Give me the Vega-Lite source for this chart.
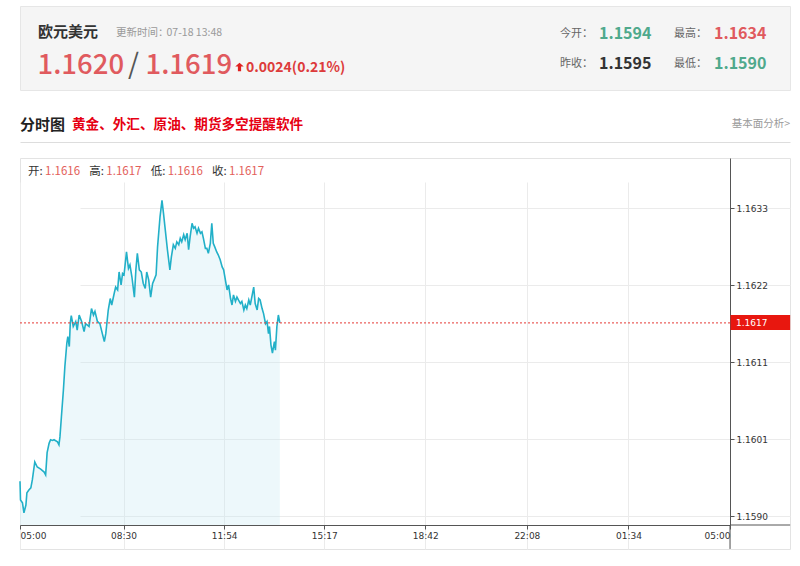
{
"$schema":"https://vega.github.io/schema/vega-lite/v6.json",
"background":"#ffffff",
"padding":{"left":16,"top":5,"right":10,"bottom":10},
"spacing":15,
"config":{"view":{"stroke":null},"text":{"font":"Noto Sans CJK SC"},"axis":{"labelFont":"DejaVu Sans"}},
"datasets":{
"quote":[{"name":"欧元美元","updated":"07-18 13:48","bid":1.1620,"ask":1.1619,"change":"0.0024(0.21%)","open":1.1594,"high":1.1634,"prevClose":1.1595,"low":1.1590}],
"ohlc":[{"k":"开:","v":1.1616},{"k":"高:","v":1.1617},{"k":"低:","v":1.1616},{"k":"收:","v":1.1617}],
"last":[{"price":1.1617}],
"series":[
{"t":"2025-07-18T05:00","p":1.15949},{"t":"2025-07-18T05:01","p":1.15923},{"t":"2025-07-18T05:05","p":1.15919},{"t":"2025-07-18T05:08","p":1.15905},{"t":"2025-07-18T05:12","p":1.15916},{"t":"2025-07-18T05:14","p":1.15933},{"t":"2025-07-18T05:18","p":1.15937},{"t":"2025-07-18T05:22","p":1.15940},{"t":"2025-07-18T05:25","p":1.15951},{"t":"2025-07-18T05:30","p":1.15976},{"t":"2025-07-18T05:35","p":1.15969},{"t":"2025-07-18T05:42","p":1.15966},{"t":"2025-07-18T05:49","p":1.15962},{"t":"2025-07-18T05:52","p":1.15958},{"t":"2025-07-18T05:55","p":1.15989},{"t":"2025-07-18T05:59","p":1.16002},
{"t":"2025-07-18T06:02","p":1.16007},{"t":"2025-07-18T06:06","p":1.16006},{"t":"2025-07-18T06:09","p":1.16007},{"t":"2025-07-18T06:16","p":1.16004},{"t":"2025-07-18T06:19","p":1.16000},{"t":"2025-07-18T06:21","p":1.16011},{"t":"2025-07-18T06:24","p":1.16039},{"t":"2025-07-18T06:28","p":1.16076},{"t":"2025-07-18T06:31","p":1.16109},{"t":"2025-07-18T06:35","p":1.16142},{"t":"2025-07-18T06:37","p":1.16151},{"t":"2025-07-18T06:40","p":1.16137},{"t":"2025-07-18T06:42","p":1.16170},{"t":"2025-07-18T06:44","p":1.16180},{"t":"2025-07-18T06:48","p":1.16165},{"t":"2025-07-18T06:53","p":1.16172},{"t":"2025-07-18T06:56","p":1.16160},
{"t":"2025-07-18T07:00","p":1.16181},{"t":"2025-07-18T07:05","p":1.16172},{"t":"2025-07-18T07:10","p":1.16158},{"t":"2025-07-18T07:13","p":1.16169},{"t":"2025-07-18T07:20","p":1.16165},{"t":"2025-07-18T07:25","p":1.16190},{"t":"2025-07-18T07:29","p":1.16181},{"t":"2025-07-18T07:32","p":1.16186},{"t":"2025-07-18T07:37","p":1.16172},{"t":"2025-07-18T07:42","p":1.16169},{"t":"2025-07-18T07:47","p":1.16155},{"t":"2025-07-18T07:51","p":1.16144},{"t":"2025-07-18T07:54","p":1.16155},{"t":"2025-07-18T07:59","p":1.16188},
{"t":"2025-07-18T08:03","p":1.16204},{"t":"2025-07-18T08:06","p":1.16195},{"t":"2025-07-18T08:11","p":1.16211},{"t":"2025-07-18T08:14","p":1.16220},{"t":"2025-07-18T08:18","p":1.16216},{"t":"2025-07-18T08:21","p":1.16241},{"t":"2025-07-18T08:25","p":1.16223},{"t":"2025-07-18T08:28","p":1.16239},{"t":"2025-07-18T08:31","p":1.16237},{"t":"2025-07-18T08:36","p":1.16269},{"t":"2025-07-18T08:40","p":1.16246},{"t":"2025-07-18T08:43","p":1.16251},{"t":"2025-07-18T08:47","p":1.16234},{"t":"2025-07-18T08:52","p":1.16206},{"t":"2025-07-18T08:55","p":1.16244},{"t":"2025-07-18T08:58","p":1.16267},
{"t":"2025-07-18T09:02","p":1.16244},{"t":"2025-07-18T09:06","p":1.16241},{"t":"2025-07-18T09:10","p":1.16225},{"t":"2025-07-18T09:14","p":1.16218},{"t":"2025-07-18T09:17","p":1.16241},{"t":"2025-07-18T09:21","p":1.16230},{"t":"2025-07-18T09:25","p":1.16206},{"t":"2025-07-18T09:29","p":1.16225},{"t":"2025-07-18T09:32","p":1.16230},{"t":"2025-07-18T09:36","p":1.16237},{"t":"2025-07-18T09:39","p":1.16276},{"t":"2025-07-18T09:44","p":1.16318},{"t":"2025-07-18T09:48","p":1.16341},{"t":"2025-07-18T09:51","p":1.16323},{"t":"2025-07-18T09:54","p":1.16304},{"t":"2025-07-18T09:59","p":1.16272},
{"t":"2025-07-18T10:04","p":1.16244},{"t":"2025-07-18T10:07","p":1.16262},{"t":"2025-07-18T10:11","p":1.16279},{"t":"2025-07-18T10:15","p":1.16274},{"t":"2025-07-18T10:18","p":1.16283},{"t":"2025-07-18T10:22","p":1.16279},{"t":"2025-07-18T10:25","p":1.16288},{"t":"2025-07-18T10:28","p":1.16283},{"t":"2025-07-18T10:32","p":1.16293},{"t":"2025-07-18T10:35","p":1.16286},{"t":"2025-07-18T10:39","p":1.16295},{"t":"2025-07-18T10:42","p":1.16272},{"t":"2025-07-18T10:45","p":1.16290},{"t":"2025-07-18T10:49","p":1.16309},{"t":"2025-07-18T10:52","p":1.16302},{"t":"2025-07-18T10:55","p":1.16304},{"t":"2025-07-18T10:59","p":1.16295},
{"t":"2025-07-18T11:02","p":1.16302},{"t":"2025-07-18T11:06","p":1.16295},{"t":"2025-07-18T11:09","p":1.16297},{"t":"2025-07-18T11:12","p":1.16288},{"t":"2025-07-18T11:16","p":1.16274},{"t":"2025-07-18T11:19","p":1.16274},{"t":"2025-07-18T11:22","p":1.16267},{"t":"2025-07-18T11:26","p":1.16281},{"t":"2025-07-18T11:29","p":1.16309},{"t":"2025-07-18T11:32","p":1.16281},{"t":"2025-07-18T11:35","p":1.16276},{"t":"2025-07-18T11:39","p":1.16269},{"t":"2025-07-18T11:42","p":1.16265},{"t":"2025-07-18T11:46","p":1.16258},{"t":"2025-07-18T11:50","p":1.16248},{"t":"2025-07-18T11:53","p":1.16244},{"t":"2025-07-18T11:56","p":1.16232},
{"t":"2025-07-18T12:00","p":1.16216},{"t":"2025-07-18T12:03","p":1.16223},{"t":"2025-07-18T12:07","p":1.16204},{"t":"2025-07-18T12:10","p":1.16195},{"t":"2025-07-18T12:13","p":1.16209},{"t":"2025-07-18T12:17","p":1.16200},{"t":"2025-07-18T12:20","p":1.16206},{"t":"2025-07-18T12:23","p":1.16202},{"t":"2025-07-18T12:27","p":1.16197},{"t":"2025-07-18T12:30","p":1.16200},{"t":"2025-07-18T12:34","p":1.16188},{"t":"2025-07-18T12:37","p":1.16195},{"t":"2025-07-18T12:40","p":1.16190},{"t":"2025-07-18T12:44","p":1.16202},{"t":"2025-07-18T12:47","p":1.16195},{"t":"2025-07-18T12:51","p":1.16209},{"t":"2025-07-18T12:54","p":1.16220},{"t":"2025-07-18T12:57","p":1.16197},
{"t":"2025-07-18T13:01","p":1.16188},{"t":"2025-07-18T13:04","p":1.16204},{"t":"2025-07-18T13:07","p":1.16202},{"t":"2025-07-18T13:11","p":1.16190},{"t":"2025-07-18T13:14","p":1.16183},{"t":"2025-07-18T13:18","p":1.16169},{"t":"2025-07-18T13:21","p":1.16172},{"t":"2025-07-18T13:24","p":1.16155},{"t":"2025-07-18T13:26","p":1.16165},{"t":"2025-07-18T13:29","p":1.16139},{"t":"2025-07-18T13:32","p":1.16128},{"t":"2025-07-18T13:36","p":1.16144},{"t":"2025-07-18T13:38","p":1.16132},{"t":"2025-07-18T13:41","p":1.16165},{"t":"2025-07-18T13:44","p":1.16181},{"t":"2025-07-18T13:47","p":1.16170}
]
},
"vconcat":[
{
"width":770,"height":84,
"view":{"fill":"#f5f5f5","stroke":"#e6e6e6"},
"data":{"name":"quote"},
"layer":[
{"mark":{"type":"text","align":"left","baseline":"middle","fontSize":15,"fontWeight":"bold","color":"#333333"},
 "encoding":{"x":{"datum":18,"type":"quantitative","scale":{"domain":[0,770],"nice":false,"zero":false},"axis":null},"y":{"datum":26,"type":"quantitative","scale":{"domain":[0,84],"reverse":true,"nice":false,"zero":false},"axis":null},"text":{"field":"name"}}},
{"mark":{"type":"text","align":"left","baseline":"middle","fontSize":10.5,"color":"#9a9a9a","text":"更新时间："},
 "encoding":{"x":{"datum":96,"type":"quantitative","axis":null},"y":{"datum":27,"type":"quantitative","axis":null}}},
{"mark":{"type":"text","align":"left","baseline":"middle","fontSize":10.5,"color":"#9a9a9a"},
 "encoding":{"x":{"datum":146.5,"type":"quantitative","axis":null},"y":{"datum":27,"type":"quantitative","axis":null},"text":{"field":"updated"}}},
{"mark":{"type":"text","align":"left","baseline":"alphabetic","fontSize":27.5,"fontWeight":500,"color":"#e05a5e"},
 "encoding":{"x":{"datum":17.5,"type":"quantitative","axis":null},"y":{"datum":68,"type":"quantitative","axis":null},"text":{"field":"bid","format":".4f"}}},
{"mark":{"type":"text","align":"left","baseline":"alphabetic","fontSize":28,"color":"#555555","text":"/"},
 "encoding":{"x":{"datum":108,"type":"quantitative","axis":null},"y":{"datum":68,"type":"quantitative","axis":null}}},
{"mark":{"type":"text","align":"left","baseline":"alphabetic","fontSize":27.5,"fontWeight":500,"color":"#e05a5e"},
 "encoding":{"x":{"datum":125.5,"type":"quantitative","axis":null},"y":{"datum":68,"type":"quantitative","axis":null},"text":{"field":"ask","format":".4f"}}},
{"mark":{"type":"point","shape":"M0,-1L1,-0.1L0.38,-0.1L0.38,1L-0.38,1L-0.38,-0.1L-1,-0.1Z","size":72,"filled":true,"opacity":1,"color":"#e02020"},
 "encoding":{"x":{"datum":219.5,"type":"quantitative","axis":null},"y":{"datum":61,"type":"quantitative","axis":null}}},
{"mark":{"type":"text","align":"left","baseline":"alphabetic","fontSize":14,"fontWeight":"bold","color":"#dd3b3b"},
 "encoding":{"x":{"datum":226,"type":"quantitative","axis":null},"y":{"datum":65.5,"type":"quantitative","axis":null},"text":{"field":"change"}}},
{"mark":{"type":"text","align":"left","baseline":"middle","fontSize":11,"color":"#666666","text":"今开："},
 "encoding":{"x":{"datum":540,"type":"quantitative","axis":null},"y":{"datum":28,"type":"quantitative","axis":null}}},
{"mark":{"type":"text","align":"left","baseline":"middle","fontSize":11,"color":"#666666","text":"最高："},
 "encoding":{"x":{"datum":654,"type":"quantitative","axis":null},"y":{"datum":28,"type":"quantitative","axis":null}}},
{"mark":{"type":"text","align":"left","baseline":"middle","fontSize":11,"color":"#666666","text":"昨收："},
 "encoding":{"x":{"datum":540,"type":"quantitative","axis":null},"y":{"datum":58,"type":"quantitative","axis":null}}},
{"mark":{"type":"text","align":"left","baseline":"middle","fontSize":11,"color":"#666666","text":"最低："},
 "encoding":{"x":{"datum":654,"type":"quantitative","axis":null},"y":{"datum":58,"type":"quantitative","axis":null}}},
{"mark":{"type":"text","align":"left","baseline":"alphabetic","fontSize":16,"fontWeight":"bold","color":"#4fa98c"},
 "encoding":{"x":{"datum":579,"type":"quantitative","axis":null},"y":{"datum":33,"type":"quantitative","axis":null},"text":{"field":"open","format":".4f"}}},
{"mark":{"type":"text","align":"left","baseline":"alphabetic","fontSize":16,"fontWeight":"bold","color":"#e05a5e"},
 "encoding":{"x":{"datum":694,"type":"quantitative","axis":null},"y":{"datum":33,"type":"quantitative","axis":null},"text":{"field":"high","format":".4f"}}},
{"mark":{"type":"text","align":"left","baseline":"alphabetic","fontSize":16,"fontWeight":"bold","color":"#333333"},
 "encoding":{"x":{"datum":579,"type":"quantitative","axis":null},"y":{"datum":63,"type":"quantitative","axis":null},"text":{"field":"prevClose","format":".4f"}}},
{"mark":{"type":"text","align":"left","baseline":"alphabetic","fontSize":16,"fontWeight":"bold","color":"#4fa98c"},
 "encoding":{"x":{"datum":694,"type":"quantitative","axis":null},"y":{"datum":63,"type":"quantitative","axis":null},"text":{"field":"low","format":".4f"}}}
]
},
{
"width":770,"height":36,
"data":{"values":[{"title":"分时图","promo":"黄金、外汇、原油、期货多空提醒软件","link":"基本面分析>"}]},
"layer":[
{"mark":{"type":"text","align":"left","baseline":"middle","fontSize":15,"fontWeight":"bold","color":"#222222"},
 "encoding":{"x":{"datum":0,"type":"quantitative","scale":{"domain":[0,770],"nice":false,"zero":false},"axis":{"orient":"bottom","domain":true,"domainColor":"#dddddd","ticks":false,"labels":false,"grid":false,"title":null}},"y":{"datum":19,"type":"quantitative","scale":{"domain":[0,36],"reverse":true,"nice":false,"zero":false},"axis":null},"text":{"field":"title"}}},
{"mark":{"type":"text","align":"left","baseline":"middle","fontSize":13.6,"fontWeight":"bold","color":"#e60012"},
 "encoding":{"x":{"datum":52,"type":"quantitative","title":null},"y":{"datum":19,"type":"quantitative","axis":null},"text":{"field":"promo"}}},
{"mark":{"type":"text","align":"right","baseline":"middle","fontSize":10.5,"color":"#9a9a9a"},
 "encoding":{"x":{"datum":770,"type":"quantitative","title":null},"y":{"datum":18,"type":"quantitative","axis":null},"text":{"field":"link"}}}
]
},
{
"width":770,"height":391,
"view":{"stroke":"#e3e3e3"},
"layer":[
{"data":{"name":"series"},
 "mark":{"type":"area","color":"#c4e7f3","opacity":0.3},
 "encoding":{
  "x":{"field":"t","type":"temporal","scale":{"domain":[{"year":2025,"month":7,"date":18,"hours":5,"minutes":0},{"year":2025,"month":7,"date":19,"hours":5,"minutes":0}],"range":[0,710],"nice":false},
   "axis":{"orient":"bottom","offset":-24,"title":null,"format":"%H:%M","labelFlush":true,"labelOverlap":false,
    "values":[{"year":2025,"month":7,"date":18,"hours":5,"minutes":0},{"year":2025,"month":7,"date":18,"hours":8,"minutes":30},{"year":2025,"month":7,"date":18,"hours":11,"minutes":54},{"year":2025,"month":7,"date":18,"hours":15,"minutes":17},{"year":2025,"month":7,"date":18,"hours":18,"minutes":42},{"year":2025,"month":7,"date":18,"hours":22,"minutes":8},{"year":2025,"month":7,"date":19,"hours":1,"minutes":34},{"year":2025,"month":7,"date":19,"hours":5,"minutes":0}],
    "grid":true,"gridColor":"#ebebeb","domainColor":"#555555","tickColor":"#555555","tickSize":4,"labelFontSize":9,"labelColor":"#333333","labelPadding":2}},
  "y":{"field":"p","type":"quantitative","scale":{"domain":[1.158881,1.164],"range":[367,0],"nice":false,"zero":false},
   "axis":{"orient":"right","offset":-60,"title":null,"format":".4f","values":[1.159,1.160075,1.161149,1.162225,1.1633],
    "grid":true,"gridColor":"#ebebeb","domainColor":"#555555","tickColor":"#555555","tickSize":4,"labelFontSize":9,"labelColor":"#333333","labelPadding":2}},
  "y2":{"datum":1.158881}}},
{"data":{"name":"series"},
 "mark":{"type":"line","color":"#22b0c8","strokeWidth":1.6},
 "encoding":{"x":{"field":"t","type":"temporal","title":null},"y":{"field":"p","type":"quantitative","title":null}}},
{"data":{"name":"last"},
 "mark":{"type":"rule","color":"#e53935","strokeDash":[2,2],"strokeWidth":1},
 "encoding":{"x":{"datum":{"year":2025,"month":7,"date":18,"hours":5,"minutes":0},"type":"temporal","title":null},"x2":{"datum":{"year":2025,"month":7,"date":19,"hours":5,"minutes":0}},"y":{"field":"price","type":"quantitative","title":null}}},
{"data":{"name":"last"},
 "mark":{"type":"rect","color":"#e8170f"},
 "encoding":{"x":{"datum":{"year":2025,"month":7,"date":19,"hours":5,"minutes":1},"type":"temporal","title":null},"x2":{"datum":{"year":2025,"month":7,"date":19,"hours":7,"minutes":2}},"y":{"datum":1.161811,"type":"quantitative","title":null},"y2":{"datum":1.161602}}},
{"data":{"name":"last"},
 "mark":{"type":"text","align":"left","baseline":"middle","dx":6,"font":"DejaVu Sans","fontSize":9,"color":"#ffffff"},
 "encoding":{"x":{"datum":{"year":2025,"month":7,"date":19,"hours":5,"minutes":0},"type":"temporal","title":null},"y":{"field":"price","type":"quantitative","title":null},"text":{"field":"price","format":".4f"}}},
{"data":{"name":"last"},
 "mark":{"type":"rule","color":"#555555","strokeWidth":1},
 "encoding":{"x":{"datum":{"year":2025,"month":7,"date":19,"hours":5,"minutes":0},"type":"temporal","title":null},"x2":{"datum":{"year":2025,"month":7,"date":19,"hours":7,"minutes":2}},"y":{"datum":1.158881,"type":"quantitative","title":null}}},
{"data":{"name":"last"},
 "mark":{"type":"rule","color":"#555555","strokeWidth":1},
 "encoding":{"x":{"datum":{"year":2025,"month":7,"date":19,"hours":5,"minutes":0},"type":"temporal","title":null},"y":{"datum":1.158881,"type":"quantitative","title":null},"y2":{"datum":1.158547}}},
{"data":{"name":"ohlc"},
 "mark":{"type":"text","align":"left","baseline":"middle","fontSize":11.5,"color":"#333333"},
 "encoding":{"x":{"datum":{"year":2025,"month":7,"date":18,"hours":5,"minutes":0},"type":"temporal","title":null},
  "xOffset":{"field":"k","type":"nominal","scale":{"type":"point","domain":["开:","高:","低:","收:"],"range":[8,192],"padding":0}},
  "y":{"datum":1.163805,"type":"quantitative","title":null},"text":{"field":"k"}}},
{"data":{"name":"ohlc"},
 "mark":{"type":"text","align":"left","baseline":"middle","fontSize":11.5,"color":"#e3605a","dx":17},
 "encoding":{"x":{"datum":{"year":2025,"month":7,"date":18,"hours":5,"minutes":0},"type":"temporal","title":null},
  "xOffset":{"field":"k","type":"nominal","scale":{"type":"point","domain":["开:","高:","低:","收:"],"range":[8,192],"padding":0}},
  "y":{"datum":1.163805,"type":"quantitative","title":null},"text":{"field":"v","format":".4f"}}}
]
}
]
}
